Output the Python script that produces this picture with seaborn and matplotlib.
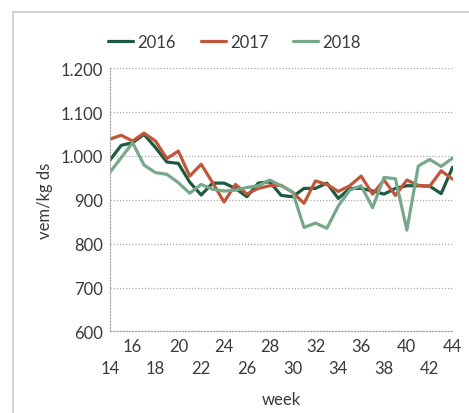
import pandas as pd
import seaborn as sns
import matplotlib.pyplot as plt
from matplotlib.lines import Line2D
from matplotlib.ticker import FuncFormatter

# weekly values
weeks = list(range(14, 45))
vem_2016 = [990, 1024, 1030, 1049, 1019, 986, 983, 940, 911, 938, 938, 926, 907, 938, 941,
            910, 907, 926, 926, 938, 903, 926, 926, 920, 913, 926, 932, 932, 931, 914, 974]
vem_2017 = [1038, 1047, 1034, 1052, 1034, 994, 1011, 954, 981, 939, 895, 935, 913, 926, 932,
            933, 917, 892, 943, 935, 919, 932, 954, 913, 945, 910, 945, 933, 931, 966, 947]
vem_2018 = [962, 996, 1030, 979, 962, 958, 939, 915, 935, 924, 920, 922, 928, 932, 945,
            932, 918, 837, 847, 835, 886, 922, 932, 882, 951, 948, 831, 977, 992, 976, 995]
years = ["2016", "2017", "2018"]
colors = ["#1e5a40", "#c0573a", "#78a88c"]

df = pd.concat([
    pd.DataFrame({"week": weeks, "vem": vals, "jaar": yr})
    for yr, vals in zip(years, [vem_2016, vem_2017, vem_2018])
])

sns.set_style("white")
plt.rcParams["font.family"] = ["Lato", "DejaVu Sans"]
plt.rcParams["text.color"] = "#3a3a3a"

fig = plt.figure(figsize=(4.69, 4.14), dpi=100)
ax = fig.add_axes([0.234, 0.197, 0.731, 0.636])

sns.lineplot(data=df, x="week", y="vem", hue="jaar", palette=colors,
             linewidth=2.3, ax=ax, legend=False)

ax.set_xlim(14, 44)
ax.set_ylim(600, 1200)
ax.set_yticks(range(600, 1201, 100))
ax.yaxis.set_major_formatter(FuncFormatter(lambda v, p: f"{int(v):,}".replace(",", ".")))

# alternating two-row x labels
ax.set_xticks(range(16, 45, 4))
ax.set_xticks(range(14, 44, 4), minor=True)
ax.set_xticklabels([str(w) for w in range(16, 45, 4)])
ax.set_xticklabels([str(w) for w in range(14, 44, 4)], minor=True)
ax.tick_params(axis="x", which="major", direction="in", length=4, width=0.8,
               color="#999999", pad=5, labelsize=12, labelcolor="#3a3a3a")
ax.tick_params(axis="x", which="minor", direction="in", length=4, width=0.8,
               color="#999999", pad=20.5, labelsize=12, labelcolor="#3a3a3a")
ax.tick_params(axis="y", length=0, pad=5, labelsize=12, labelcolor="#3a3a3a")

ax.grid(axis="y", linestyle=(0, (1, 1.5)), color="#aaaaaa", linewidth=0.9)
ax.grid(axis="x", visible=False)
for side in ["top", "right"]:
    ax.spines[side].set_visible(False)
for side in ["left", "bottom"]:
    ax.spines[side].set_linestyle((0, (1, 1.5)))
    ax.spines[side].set_color("#aaaaaa")
    ax.spines[side].set_linewidth(0.9)

ax.set_xlabel("week", fontsize=12, color="#3a3a3a", labelpad=11)
ax.set_ylabel("vem/kg ds", fontsize=12, color="#3a3a3a", labelpad=5)

handles = [Line2D([], [], color=c, linewidth=2.3) for c in colors]
fig.legend(handles, years, loc="center", bbox_to_anchor=(0.5, 0.896), ncol=3,
           frameon=False, fontsize=12, handlelength=1.5, handletextpad=0.25,
           columnspacing=1.5)

# light frame along top and left edges
fig.add_artist(Line2D([0.028, 1.0], [0.969, 0.969], color="#cccccc", linewidth=1.2))
fig.add_artist(Line2D([0.028, 0.028], [0.0, 0.969], color="#cccccc", linewidth=1.2))

fig.savefig("out.png", dpi=100)
